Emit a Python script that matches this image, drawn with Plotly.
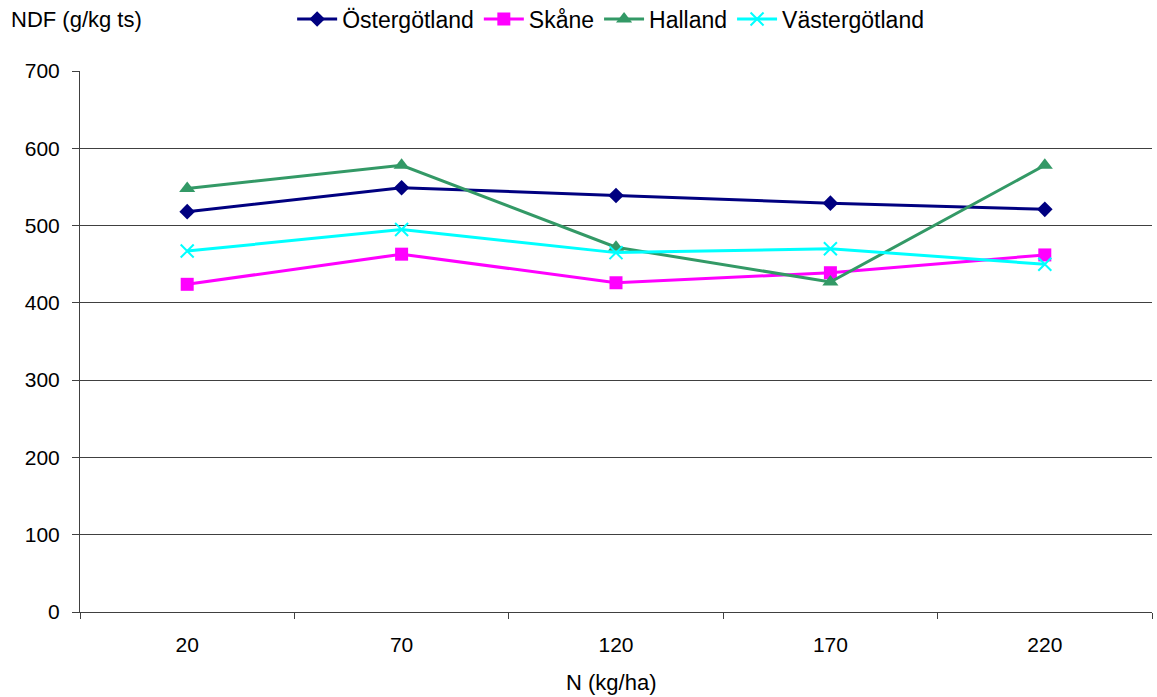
import plotly.graph_objects as go

categories = ["20", "70", "120", "170", "220"]
ostergotland = [518, 549, 539, 529, 521]
skane = [424, 463, 426, 439, 462]
halland = [548, 578, 472, 427, 578]
vastergotland = [467, 495, 465, 470, 450]

FONT = "Liberation Sans, Arial, sans-serif"

fig = go.Figure()
fig.add_trace(go.Scatter(x=categories, y=ostergotland, name="Östergötland", mode="lines+markers",
                         line=dict(color="#000080", width=3),
                         marker=dict(symbol="diamond", size=12, color="#000080")))
fig.add_trace(go.Scatter(x=categories, y=skane, name="Skåne", mode="lines+markers",
                         line=dict(color="#FF00FF", width=3),
                         marker=dict(symbol="square", size=13, color="#FF00FF")))
fig.add_trace(go.Scatter(x=categories, y=halland, name="Halland", mode="lines+markers",
                         line=dict(color="#339966", width=3),
                         marker=dict(symbol="triangle-up", size=14, color="#339966")))
fig.add_trace(go.Scatter(x=categories, y=vastergotland, name="Västergötland", mode="lines+markers",
                         line=dict(color="#00FFFF", width=3),
                         marker=dict(symbol="x-thin-open", size=13, line=dict(color="#00FFFF", width=2))))

fig.update_layout(
    width=1157, height=697,
    margin=dict(l=80, r=5, t=71, b=85, autoexpand=False),
    plot_bgcolor="white", paper_bgcolor="white",
    font=dict(family=FONT, size=21, color="black"),
    showlegend=True,
    legend=dict(orientation="h", x=0.495, xanchor="center", y=1.096, yanchor="middle",
                font=dict(size=23), tracegroupgap=0, itemwidth=40),
    xaxis=dict(type="category", tickson="boundaries", ticks="outside", ticklen=6,
               tickcolor="#404040", showline=True, linecolor="#404040", showgrid=False,
               range=[-0.5, 4.5], ticklabelstandoff=14, automargin=False),
    yaxis=dict(range=[0, 700], dtick=100, ticks="outside", ticklen=7, tickcolor="#404040",
               showline=True, linecolor="#404040", gridcolor="#404040", gridwidth=1,
               zeroline=False, ticklabelstandoff=8, automargin=False),
    annotations=[
        dict(text="NDF (g/kg ts)", xref="paper", yref="paper", x=-0.066, y=1.096,
             xanchor="left", yanchor="middle", showarrow=False, font=dict(size=22)),
        dict(text="N (kg/ha)", xref="paper", yref="paper", x=0.4953, y=-0.131,
             xanchor="center", yanchor="middle", showarrow=False, font=dict(size=22)),
    ],
)

fig.write_html("out.html")
